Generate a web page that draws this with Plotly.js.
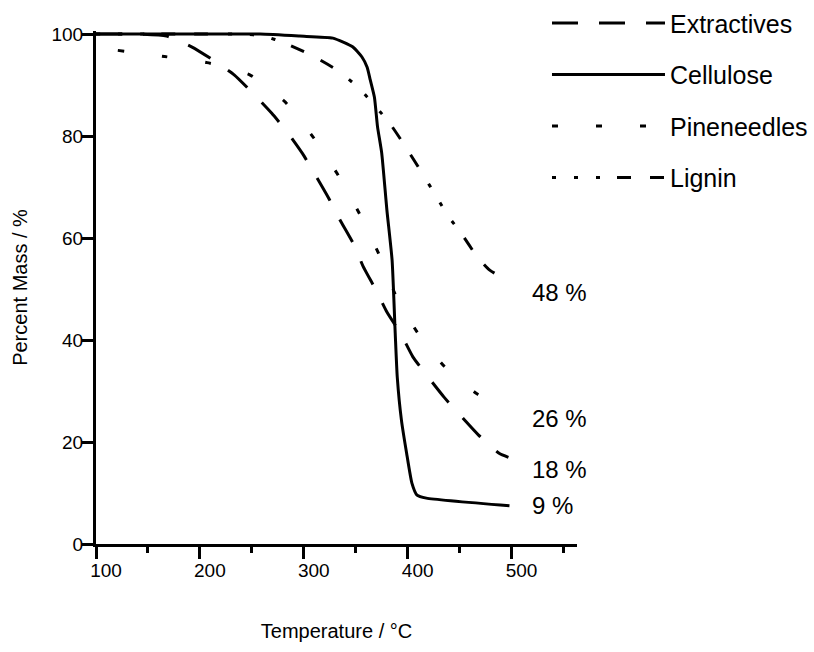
<!DOCTYPE html>
<html>
<head>
<meta charset="utf-8">
<script src="https://cdn.plot.ly/plotly-3.0.1.min.js"></script>
<style>html,body{margin:0;padding:0;background:#fff}#chart{width:814px;height:652px}</style>
</head>
<body>
<div id="chart"></div>
<script>
// ---- data ----
var seriesNames = ['Extractives', 'Cellulose', 'Pineneedles', 'Lignin'];

var extractivesT = [100, 140, 168, 192, 212, 233, 250, 269, 284, 299, 311, 324, 335, 348, 357, 370, 380, 394, 405, 421, 435, 453, 468, 488, 497];
var extractivesM = [100, 100, 99.6, 97.5, 95, 92, 88.6, 84.5, 80.8, 76.5, 72.4, 67.8, 63.5, 58.8, 54.5, 49.6, 45.5, 41, 36.7, 32.4, 28.8, 24.7, 21.4, 17.8, 17];

var celluloseT = [100, 200, 258, 296, 328, 347, 356, 361, 364, 368, 371, 375, 380, 385, 388, 390, 394, 399, 404, 409, 418, 498];
var celluloseM = [100, 100, 100, 99.6, 99.2, 97.5, 95.5, 93.5, 91, 87.6, 81.8, 76.7, 65.5, 55.7, 41.4, 32.7, 24.3, 17.8, 12, 9.6, 9.0, 7.5];

var pineneedlesT = [121, 166, 207, 248, 282, 309, 332, 353, 372, 388, 409, 435, 467, 497];
var pineneedlesM = [96.8, 95.6, 94.4, 92, 86.7, 79.8, 72.7, 65, 57, 49, 41.6, 34.9, 29.4, 26.5];

var ligninT = [100, 200, 241, 262, 282, 306, 334, 354, 382, 397, 414, 428, 439, 452, 467, 479, 498];
var ligninM = [100, 100, 100, 99.6, 98.2, 96, 92.7, 89.2, 82.7, 78.2, 72.7, 68, 64.3, 60.8, 56.3, 53.7, 51.5];

var residueLabels = ['48 %', '26 %', '18 %', '9 %'];
var residueY = [49.4, 24.7, 14.7, 7.6];

var xTicks = [100, 200, 300, 400, 500];
var yTicks = [0, 20, 40, 60, 80, 100];

// ---- styles ----
var FONT = '"Liberation Sans", Arial, Helvetica, sans-serif';
var dashes = ['26px,21px', 'solid', '6px,38px', '4px,18px,4px,18px,4px,17px,14px,19px,14px,20px'];
var xs = [extractivesT, celluloseT, pineneedlesT, ligninT];
var ys = [extractivesM, celluloseM, pineneedlesM, ligninM];

var traces = seriesNames.map(function (n, i) {
  return {
    type: 'scatter', mode: 'lines', name: n,
    x: xs[i], y: ys[i],
    legendgroup: 'g' + i,
    line: {color: '#000', width: 3, dash: dashes[i], shape: 'spline', smoothing: 0.5},
    hoverinfo: 'skip'
  };
});

var annotations = residueLabels.map(function (t, i) {
  return {
    text: t, x: 518, y: residueY[i], xref: 'x', yref: 'y',
    xanchor: 'left', yanchor: 'middle', showarrow: false,
    font: {family: FONT, size: 24, color: '#000'}
  };
});

var layout = {
  width: 814, height: 652,
  margin: {l: 96, r: 237, t: 31, b: 108, autoexpand: false},
  paper_bgcolor: '#fff', plot_bgcolor: '#fff',
  font: {family: FONT, color: '#000'},
  showlegend: true,
  legend: {
    x: 0.9376, xanchor: 'left', y: 1.06, yanchor: 'top',
    traceorder: 'grouped', tracegroupgap: 16,
    itemwidth: 113,
    font: {family: FONT, size: 25, color: '#000'},
    bgcolor: 'rgba(0,0,0,0)'
  },
  xaxis: {
    range: [100, 563], showgrid: false, zeroline: false,
    showline: true, linecolor: '#000', linewidth: 3,
    tickmode: 'array', tickvals: xTicks, ticktext: xTicks.map(String),
    ticks: 'outside', ticklen: 12, tickwidth: 3, tickcolor: '#000',
    ticklabelshift: 10, ticklabelstandoff: -5,
    minor: {tickmode: 'linear', tick0: 150, dtick: 100, ticks: 'outside', ticklen: 6, tickwidth: 3, tickcolor: '#000', showgrid: false},
    tickfont: {family: FONT, size: 19, color: '#000'},
    title: {text: 'Temperature / °C', font: {family: FONT, size: 20, color: '#000'}, standoff: 45}
  },
  yaxis: {
    range: [0, 100.6], showgrid: false, zeroline: false,
    showline: true, linecolor: '#000', linewidth: 3,
    tickmode: 'array', tickvals: yTicks, ticktext: yTicks.map(String),
    ticks: 'outside', ticklen: 11, tickwidth: 3, tickcolor: '#000',
    ticklabelstandoff: -5,
    tickfont: {family: FONT, size: 19, color: '#000'},
    title: {text: 'Percent Mass / %', font: {family: FONT, size: 20, color: '#000'}, standoff: 19}
  },
  annotations: annotations
};

Plotly.newPlot('chart', traces, layout, {staticPlot: true, displayModeBar: false});
</script>
</body>
</html>
